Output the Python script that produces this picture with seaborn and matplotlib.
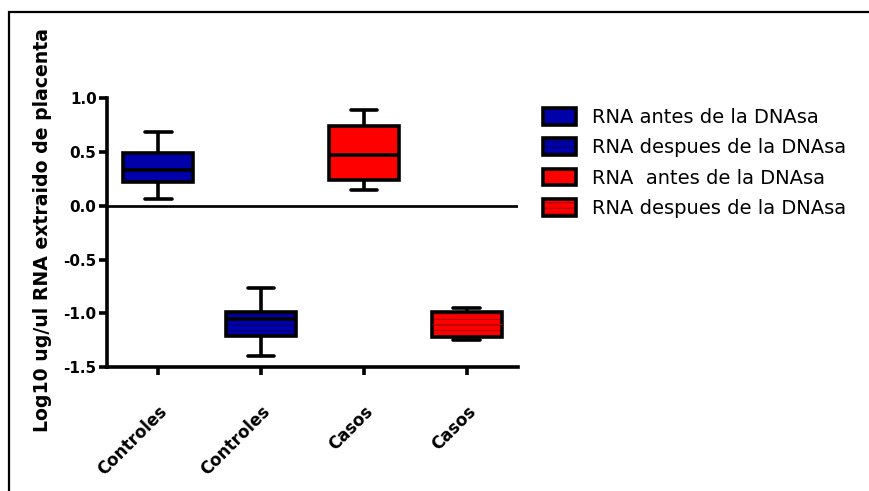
import numpy as np
import pandas as pd
import matplotlib
matplotlib.use("Agg")
import matplotlib.pyplot as plt
from matplotlib.colors import to_rgba
from matplotlib.patches import Rectangle
import seaborn as sns

# Five-number summaries (min, Q1, median, Q3, max) per group, log10 ug/ul
controles_antes = [0.06, 0.22, 0.33, 0.49, 0.69]
controles_despues = [-1.395, -1.21, -1.055, -0.985, -0.765]
casos_antes = [0.15, 0.24, 0.47, 0.74, 0.89]
casos_despues = [-1.245, -1.22, -1.10, -0.99, -0.95]

grupos = ["controles_antes", "controles_despues", "casos_antes", "casos_despues"]
etiquetas_x = ["Controles", "Controles", "Casos", "Casos"]
etiquetas_leyenda = [
    "RNA antes de la DNAsa",
    "RNA despues de la DNAsa",
    "RNA  antes de la DNAsa",
    "RNA despues de la DNAsa",
]
colores = ["#0000AA", "#0000AA", "#FF0000", "#FF0000"]
colores_trama = [None, "#00006A", None, "#B00000"]
yticks = [-1.5, -1.0, -0.5, 0.0, 0.5, 1.0]

valores = [controles_antes, controles_despues, casos_antes, casos_despues]
df = pd.DataFrame({
    "grupo": np.repeat(grupos, [len(v) for v in valores]),
    "valor": np.concatenate(valores),
})

sns.set_style("ticks")
plt.rcParams["font.family"] = ["DejaVu Sans"]
plt.rcParams["axes.unicode_minus"] = False
plt.rcParams["hatch.linewidth"] = 0.8
plt.rcParams["text.color"] = "black"
plt.rcParams["axes.edgecolor"] = "black"
plt.rcParams["axes.labelcolor"] = "black"

fig = plt.figure(figsize=(8.69, 4.91), dpi=100)
ax = fig.add_axes([107 / 869, 1 - 367 / 491, 411 / 869, (367 - 98.3) / 491])

lw = 2.6
sns.boxplot(
    data=df, x="grupo", y="valor", hue="grupo", order=grupos, hue_order=grupos,
    palette=colores, saturation=1, width=0.68, whis=(0, 100), linewidth=lw,
    linecolor="black", capwidths=0.26, legend=True, ax=ax,
)

# hatch the "despues" boxes
for patch, tc in zip(ax.patches, colores_trama):
    if tc is not None:
        patch.set_hatch("---")
        patch._hatch_color = to_rgba(tc)

# thin median for the last (hatched) box
for line in ax.lines:
    yd = np.asarray(line.get_ydata(), dtype=float)
    xd = np.asarray(line.get_xdata(), dtype=float)
    if len(yd) == 2 and np.allclose(yd, casos_despues[2]) and np.isclose(xd.mean(), 3):
        line.set_color("#B00000")
        line.set_linewidth(0.8)

ax.set_xlim(-0.5, 3.5)
ax.set_ylim(-1.5, 1.0)
ax.axhline(0, color="black", lw=lw * 0.75, zorder=0.5)
ax.set_yticks(yticks)
ax.set_yticklabels([f"{t:.1f}" for t in yticks])
ax.set_xticks(range(len(grupos)))
ax.set_xticklabels(etiquetas_x, rotation=45, ha="right", rotation_mode="anchor")
ax.set_xlabel("")
ax.set_ylabel("")
sns.despine(ax=ax)
for s in ("left", "bottom"):
    ax.spines[s].set_linewidth(lw)
    ax.spines[s].set_color("black")
ax.tick_params(axis="both", width=lw, length=5.5, labelsize=11, colors="black")
ax.tick_params(axis="x", pad=20, labelsize=12)
ax.tick_params(axis="y", pad=2)
for t in ax.get_xticklabels() + ax.get_yticklabels():
    t.set_fontweight("bold")

fig.text(43 / 869, 1 - 230 / 491, "Log10 ug/ul RNA extraido de placenta",
         rotation=90, ha="center", va="center", fontsize=13.6, fontweight="bold",
         color="black")

handles = ax.get_legend().legend_handles
ax.get_legend().remove()
leg = ax.legend(
    handles, etiquetas_leyenda, loc="upper left",
    bbox_to_anchor=(543 / 869, 1 - 108 / 491), bbox_transform=fig.transFigure,
    frameon=False, fontsize=14, borderpad=0, borderaxespad=0,
    handlelength=1.7, handleheight=0.95, handletextpad=0.8, labelspacing=0.58,
)
for txt in leg.get_texts():
    txt.set_color("black")
for h, c, tc in zip(leg.legend_handles, colores, colores_trama):
    h.set_facecolor(c)
    h.set_edgecolor("black")
    h.set_linewidth(lw)
    if tc is not None:
        h.set_hatch("---")
        h._hatch_color = to_rgba(tc)

# outer frame
fig.add_artist(Rectangle((9 / 869, -0.2), 1.2, 1.2 - 12 / 491, transform=fig.transFigure,
                         fill=False, lw=1.6, edgecolor="black", clip_on=False))

fig.savefig("out.png", dpi=100)
